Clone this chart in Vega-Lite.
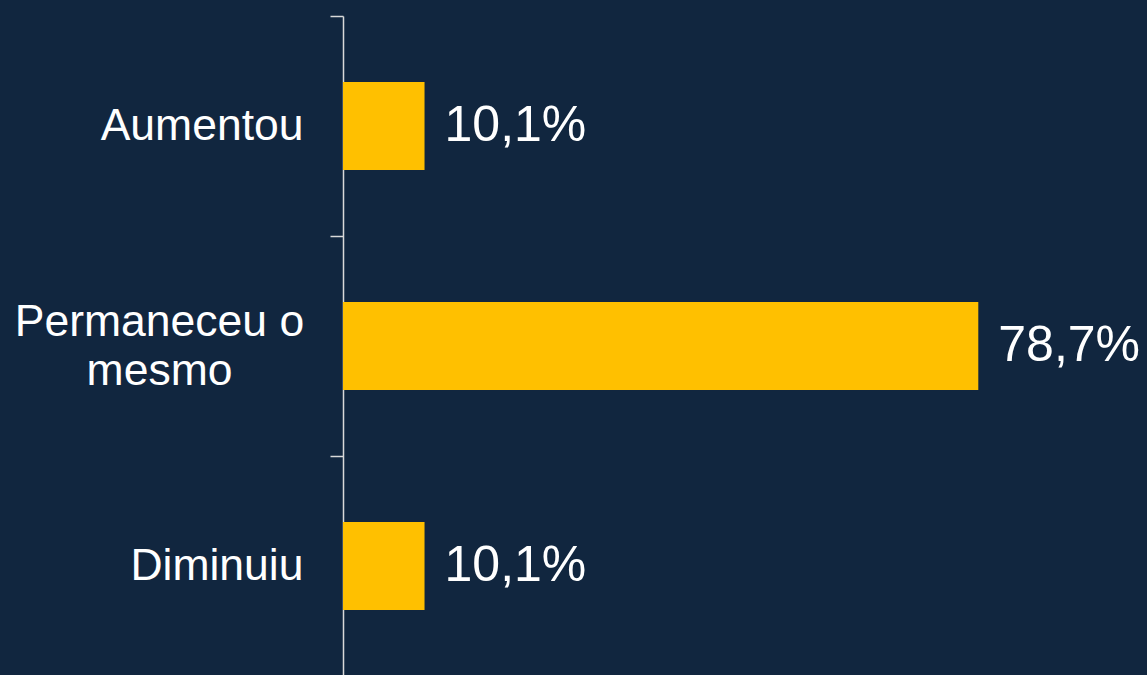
{
  "$schema": "https://vega.github.io/schema/vega-lite/v6.json",
  "autosize": {"type": "none"},
  "width": 804,
  "height": 660,
  "padding": {"left": 343, "top": 16, "right": 0, "bottom": 0},
  "background": "#11263F",
  "config": {
    "view": {"stroke": null},
    "font": "Liberation Sans",
    "locale": {"number": {"decimal": ",", "thousands": ".", "grouping": [3], "currency": ["", " €"]}}
  },
  "data": {
    "values": [
      {"categoria": "Aumentou", "valor": 0.101},
      {"categoria": "Permaneceu o mesmo", "valor": 0.787},
      {"categoria": "Diminuiu", "valor": 0.101}
    ]
  },
  "encoding": {
    "y": {
      "field": "categoria",
      "type": "nominal",
      "sort": null,
      "scale": {"paddingInner": 0, "paddingOuter": 0},
      "axis": {
        "title": null,
        "domainColor": "#D9D9D9",
        "domainWidth": 1.5,
        "tickColor": "#D9D9D9",
        "tickWidth": 1.5,
        "tickSize": 13,
        "tickBand": "extent",
        "labelPadding": {"condition": {"test": "datum.value == 'Permaneceu o mesmo'", "value": 171}, "value": 27},
        "labelAlign": {"condition": {"test": "datum.value == 'Permaneceu o mesmo'", "value": "center"}, "value": "right"},
        "labelColor": "#FFFFFF",
        "labelFontSize": 44.5,
        "labelFont": "Liberation Sans",
        "labelLineHeight": 49,
        "labelLimit": 400,
        "labelOffset": {"condition": {"test": "datum.value == 'Permaneceu o mesmo'", "value": -24}, "value": 0},
        "labelExpr": "datum.value == 'Permaneceu o mesmo' ? ['Permaneceu o', 'mesmo'] : datum.value"
      }
    },
    "x": {
      "field": "valor",
      "type": "quantitative",
      "scale": {"domain": [0, 0.996], "nice": false},
      "axis": null
    }
  },
  "layer": [
    {"mark": {"type": "bar", "color": "#FFC000", "height": {"band": 0.4}}},
    {
      "mark": {"type": "text", "align": "left", "baseline": "middle", "dx": 20, "fontSize": 50, "color": "#FFFFFF", "font": "Liberation Sans"},
      "encoding": {"text": {"field": "valor", "type": "quantitative", "format": ".1%"}}
    }
  ]
}
